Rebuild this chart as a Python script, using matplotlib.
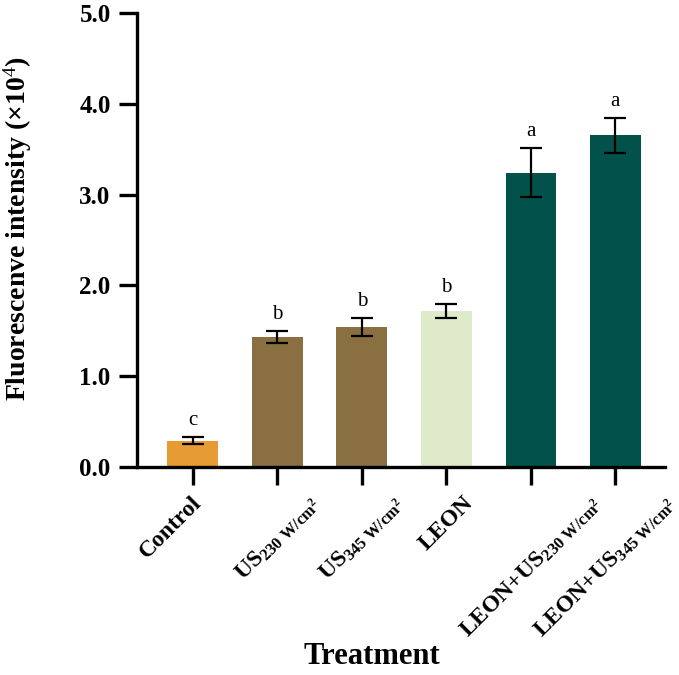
import matplotlib
matplotlib.use("Agg")
import matplotlib.pyplot as plt
from matplotlib.transforms import ScaledTranslation

plt.rcParams["font.family"] = ["Liberation Serif", "DejaVu Serif"]
plt.rcParams["mathtext.fontset"] = "custom"
plt.rcParams["mathtext.rm"] = "Liberation Serif"
plt.rcParams["mathtext.bf"] = "Liberation Serif:bold"
plt.rcParams["mathtext.it"] = "Liberation Serif:italic"

labels = [
    "Control",
    r"US$_{\mathbf{230\ W/cm^{2}}}$",
    r"US$_{\mathbf{345\ W/cm^{2}}}$",
    "LEON",
    r"LEON+US$_{\mathbf{230\ W/cm^{2}}}$",
    r"LEON+US$_{\mathbf{345\ W/cm^{2}}}$",
]
means = [0.29, 1.43, 1.54, 1.72, 3.24, 3.65]
errors = [0.04, 0.065, 0.10, 0.075, 0.27, 0.19]
letters = ["c", "b", "b", "b", "a", "a"]
colors = ["#E69B35", "#8A6F41", "#8A6F41", "#DFEACB", "#02514A", "#02514A"]

fig = plt.figure(figsize=(6.79, 6.75), dpi=100)
ax = fig.add_axes([0.2018, 0.308, 0.778, 0.673])

x = range(len(means))
ax.bar(x, means, width=0.6, color=colors, zorder=2)
ax.errorbar(x, means, yerr=errors, fmt="none", ecolor="black",
            elinewidth=1.6, capsize=8, capthick=1.6, zorder=3)

for i, (m, e, t) in enumerate(zip(means, errors, letters)):
    ax.annotate(t, (i, m + e), xytext=(0, 5), textcoords="offset points",
                ha="center", va="bottom", fontsize=15)

ax.set_xlim(-0.66, 5.59)
ax.set_ylim(0, 5.0)
ax.set_yticks([0, 1, 2, 3, 4, 5])
ax.set_yticklabels(["0.0", "1.0", "2.0", "3.0", "4.0", "5.0"],
                   fontsize=18, fontweight="bold")
ax.set_xticks(list(x))
ax.set_xticklabels(labels, rotation=45, fontsize=17, fontweight="bold")

for side in ["top", "right"]:
    ax.spines[side].set_visible(False)
for side in ["left", "bottom"]:
    ax.spines[side].set_linewidth(2.4)
ax.tick_params(axis="both", direction="out", length=13, width=2.4)
ax.tick_params(axis="y", pad=6)
ax.tick_params(axis="x", pad=5)

# nudge a couple of x labels sideways like in the original
tl = ax.get_xticklabels()
for lab, dx in [(tl[0], -0.22), (tl[5], -0.10)]:
    lab.set_transform(lab.get_transform()
                      + ScaledTranslation(dx, 0, fig.dpi_scale_trans))

ax.set_ylabel(r"Fluorescenve intensity (×10$^{4}$)", fontsize=20,
              fontweight="bold")
ax.yaxis.set_label_coords(-0.195, 0.526)
ax.set_xlabel("Treatment", fontsize=22, fontweight="bold")
ax.xaxis.set_label_coords(0.445, -0.385)

fig.savefig("out.png", dpi=100)
